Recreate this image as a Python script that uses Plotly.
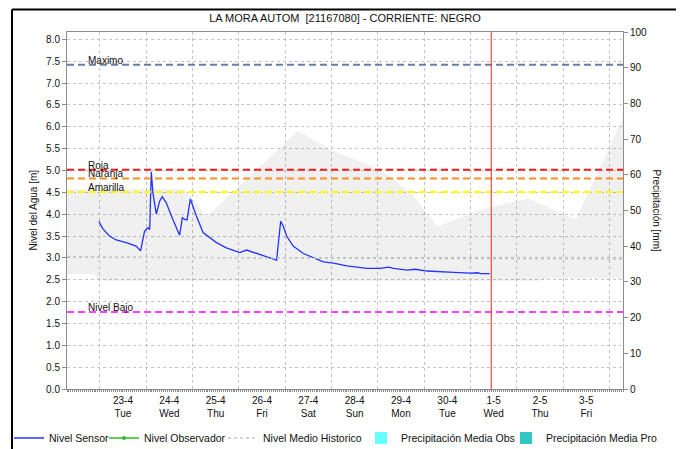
import plotly.graph_objects as go

# ---------------- data ----------------
sensor_time = [
    "2024-04-22 23:30", "2024-04-23 01:30", "2024-04-23 05:00", "2024-04-23 08:30",
    "2024-04-23 13:40", "2024-04-23 18:50", "2024-04-23 21:05", "2024-04-23 23:10",
    "2024-04-24 00:50", "2024-04-24 01:50", "2024-04-24 02:40", "2024-04-24 03:30",
    "2024-04-24 05:15", "2024-04-24 07:00", "2024-04-24 08:20", "2024-04-24 10:25",
    "2024-04-24 13:50", "2024-04-24 17:20", "2024-04-24 18:45", "2024-04-24 19:55",
    "2024-04-24 21:10", "2024-04-24 22:55", "2024-04-25 00:15", "2024-04-25 02:00",
    "2024-04-25 05:30", "2024-04-25 12:25", "2024-04-25 17:35", "2024-04-26 00:30",
    "2024-04-26 04:00", "2024-04-26 10:55", "2024-04-26 17:50", "2024-04-26 19:35",
    "2024-04-26 21:40", "2024-04-26 23:00", "2024-04-27 00:45", "2024-04-27 04:10",
    "2024-04-27 09:25", "2024-04-27 14:35", "2024-04-27 19:50", "2024-04-28 01:00",
    "2024-04-28 08:00", "2024-04-28 18:20", "2024-04-29 01:15", "2024-04-29 05:35",
    "2024-04-29 08:10", "2024-04-29 15:05", "2024-04-29 19:25", "2024-04-30 01:30",
    "2024-04-30 11:55", "2024-04-30 15:20", "2024-05-01 00:00", "2024-05-01 03:45",
    "2024-05-01 05:10", "2024-05-01 10:00",
]
sensor_level = [
    3.84, 3.67, 3.50, 3.41,
    3.35, 3.27, 3.16, 3.61,
    3.69, 3.65, 4.97, 4.49,
    4.00, 4.30, 4.40, 4.26,
    3.88, 3.52, 3.92, 3.88,
    3.87, 4.35, 4.18, 3.96,
    3.58, 3.35, 3.23, 3.12,
    3.18, 3.08, 2.98, 2.95,
    3.84, 3.73, 3.50, 3.27,
    3.10, 3.01, 2.91, 2.88,
    2.82, 2.76, 2.76, 2.79,
    2.76, 2.72, 2.74, 2.70,
    2.69, 2.67, 2.65, 2.66,
    2.64, 2.64,
]

observer_time = ["2024-04-23 00:00"]
observer_level = [None]

median_time = ["2024-04-22 07:00", "2024-04-24 07:00", "2024-04-26 07:00",
               "2024-04-28 07:00", "2024-04-30 07:00", "2024-05-02 07:00",
               "2024-05-04 07:00"]
median_level = [3.03, 3.01, 3.00, 2.99, 2.98, 2.97, 2.97]

band_upper_time = ["2024-04-22 07:00", "2024-04-23 00:00", "2024-04-24 00:00",
                   "2024-04-24 20:00", "2024-04-25 07:20", "2024-04-27 06:40",
                   "2024-04-27 23:15", "2024-04-29 01:15", "2024-04-29 16:50",
                   "2024-04-30 06:50", "2024-05-01 05:10", "2024-05-02 06:05",
                   "2024-05-03 06:30", "2024-05-04 07:00"]
band_upper = [4.57, 4.57, 4.59, 4.57, 3.95, 5.91, 5.48, 5.02, 4.50,
              3.72, 4.11, 4.36, 3.88, 6.21]

band_lower_time = ["2024-04-22 07:00", "2024-04-22 21:00", "2024-04-23 00:00",
                   "2024-05-02 12:00", "2024-05-02 16:00", "2024-05-04 07:00"]
band_lower = [2.63, 2.63, 2.48, 2.48, 2.53, 2.53]

precip_time = ["2024-04-23 12:00", "2024-04-26 12:00", "2024-04-29 12:00",
               "2024-05-02 12:00"]
precip_obs = [0, 0, 0, 0]
precip_pro = [0, 0, 0, 0]

threshold_names = ["Maximo", "Roja", "Naranja", "Amarilla", "Nivel Bajo"]
threshold_values = [7.42, 5.02, 4.82, 4.51, 1.76]
threshold_colors = ["#6b7ba8", "#ff1a1a", "#ff9020", "#ffff00", "#ff40ff"]

now_time = "2024-05-01 10:45"

tick_days = ["2024-04-23", "2024-04-24", "2024-04-25", "2024-04-26", "2024-04-27",
             "2024-04-28", "2024-04-29", "2024-04-30", "2024-05-01", "2024-05-02",
             "2024-05-03"]
tick_labels = ["23-4<br>Tue", "24-4<br>Wed", "25-4<br>Thu", "26-4<br>Fri",
               "27-4<br>Sat", "28-4<br>Sun", "29-4<br>Mon", "30-4<br>Tue",
               "1-5<br>Wed", "2-5<br>Thu", "3-5<br>Fri"]

x_range = ["2024-04-22 07:00", "2024-05-04 07:00"]
y_range = [0, 8.17]
y2_range = [0, 100]

FONT = "Liberation Sans, Arial, sans-serif"
AXIS_GRAY = "#8c8c8c"
GRID = "#c4c4c4"
W, H = 676, 441   # page body keeps an 8px margin inside the 684x449 window

# ---------------- figure ----------------
fig = go.Figure()

fig.add_trace(go.Scatter(x=band_lower_time, y=band_lower, mode="lines",
                         line=dict(width=0), showlegend=False, hoverinfo="skip"))
fig.add_trace(go.Scatter(x=band_upper_time, y=band_upper, mode="lines",
                         line=dict(width=0), fill="tonexty",
                         fillcolor="rgba(0,0,0,0.06)", showlegend=False,
                         hoverinfo="skip"))

fig.add_trace(go.Scatter(x=sensor_time, y=sensor_level, mode="lines",
                         name="Nivel Sensor", legend="legend",
                         line=dict(color="#2233ff", width=1.3)))
fig.add_trace(go.Scatter(x=observer_time, y=observer_level, mode="lines+markers",
                         name="Nivel Observador", legend="legend2",
                         line=dict(color="#33bb22", width=1.3),
                         marker=dict(size=4, color="#33bb22")))
fig.add_trace(go.Scatter(x=median_time, y=median_level, mode="lines",
                         name="Nivel Medio Historico", xaxis="x2", legend="legend3",
                         line=dict(color="#c8c8c8", width=1.5, dash="3px,3px")))
fig.add_trace(go.Bar(x=precip_time, y=precip_obs, name="Precipitación Media Obs",
                     yaxis="y2", legend="legend4",
                     marker=dict(color="#66ffff", line=dict(width=0))))
fig.add_trace(go.Bar(x=precip_time, y=precip_pro, name="Precipitación Media Pro",
                     yaxis="y2", legend="legend5",
                     marker=dict(color="#33c6c6", line=dict(width=0))))

shapes = []
annotations = []
for name, val, col in zip(threshold_names, threshold_values, threshold_colors):
    shapes.append(dict(type="line", xref="paper", x0=0, x1=1, yref="y", y0=val, y1=val,
                       line=dict(color=col, width=2, dash="7px,4px"), layer="above"))
    annotations.append(dict(text=name, xref="paper", x=0.034, xanchor="left",
                            yref="y", y=val, yanchor="bottom", yshift=-3,
                            showarrow=False, font=dict(family=FONT, size=10, color="#111")))

shapes.append(dict(type="line", xref="x", x0=now_time, x1=now_time, yref="paper",
                   y0=0, y1=1, line=dict(color="#ff2020", width=1), layer="above"))

# outer frame of the chart panel (left, top, right edges)
fx0, fx1, fy0, fy1 = -0.0989, 1.1007, -0.2, 1.063
for (a, b, c, d) in [(fx0, fy0, fx0, fy1), (fx0, fy1, fx1, fy1), (fx1, fy1, fx1, fy0)]:
    shapes.append(dict(type="line", xref="paper", yref="paper", x0=a, y0=b, x1=c, y1=d,
                       line=dict(color="#000", width=2), layer="above"))

# axis titles
annotations.append(dict(text="Nivel del Agua [m]", xref="paper", x=0, xshift=-34,
                        xanchor="center", yref="paper", y=0.5, yanchor="middle",
                        textangle=-90, showarrow=False,
                        font=dict(family=FONT, size=10, color="#111")))
annotations.append(dict(text="Precipitación [mm]", xref="paper", x=1, xshift=33,
                        xanchor="center", yref="paper", y=0.5, yanchor="middle",
                        textangle=90, showarrow=False,
                        font=dict(family=FONT, size=10, color="#111")))

legend_common = dict(orientation="h", xref="container", yref="container",
                     xanchor="left", y=11 / H, yanchor="middle",
                     font=dict(family=FONT, size=10.5, color="#111"),
                     itemwidth=30, bgcolor="rgba(0,0,0,0)")
legend_left_px = [1, 96, 215, 353, 498]

fig.update_layout(
    width=W, height=H,
    margin=dict(l=59, r=61, t=24, b=60, autoexpand=False),
    paper_bgcolor="white", plot_bgcolor="white",
    font=dict(family=FONT, size=10, color="#111"),
    title=dict(text="LA MORA AUTOM\u00a0 [21167080] - CORRIENTE: NEGRO",
               x=0.5, xref="paper", xanchor="center", y=1 - 10 / H, yref="container",
               yanchor="middle", font=dict(family=FONT, size=11, color="#111")),
    showlegend=True,
    legend=dict(legend_common, x=legend_left_px[0] / W),
    legend2=dict(legend_common, x=legend_left_px[1] / W),
    legend3=dict(legend_common, x=legend_left_px[2] / W),
    legend4=dict(legend_common, x=legend_left_px[3] / W),
    legend5=dict(legend_common, x=legend_left_px[4] / W),
    barmode="group",
    shapes=shapes, annotations=annotations,
    xaxis=dict(type="date", range=x_range, tickmode="array",
               tickvals=[d + " 12:00" for d in tick_days],
               ticktext=tick_labels, showgrid=False, zeroline=False,
               showline=True, linecolor=AXIS_GRAY, linewidth=1, mirror=True,
               ticks="outside", ticklen=2, tickcolor=AXIS_GRAY,
               minor=dict(dtick=3600000, tick0="2024-04-23", ticks="outside",
                          ticklen=2, tickcolor=AXIS_GRAY, showgrid=False),
               tickfont=dict(family=FONT, size=10, color="#111")),
    xaxis2=dict(type="date", matches="x", overlaying="x", side="bottom",
                showticklabels=False, ticks="", showline=False,
                dtick=86400000, tick0="2024-04-23", showgrid=True,
                gridcolor=GRID, griddash="dot", gridwidth=1, zeroline=False),
    yaxis=dict(range=y_range, dtick=0.5, tick0=0, tickformat=".1f",
               showgrid=True, gridcolor=GRID, griddash="dot", gridwidth=1,
               zeroline=False, showline=True, linecolor=AXIS_GRAY, linewidth=1,
               mirror=True, ticks="outside", ticklen=4, tickcolor=AXIS_GRAY,
               tickfont=dict(family=FONT, size=10, color="#111")),
    yaxis2=dict(range=y2_range, dtick=10, tick0=0, overlaying="y", side="right",
                showgrid=False, zeroline=False, showline=True, linecolor=AXIS_GRAY,
                linewidth=1, ticks="outside", ticklen=4, tickcolor=AXIS_GRAY,
                tickfont=dict(family=FONT, size=10, color="#111")),
)

fig.write_html("out.html")
